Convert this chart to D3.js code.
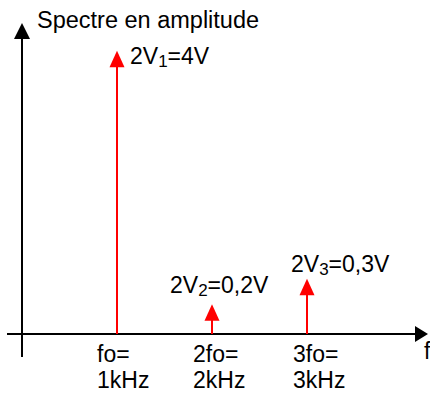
<!DOCTYPE html>
<html><head><meta charset="utf-8">
<script src="https://cdn.jsdelivr.net/npm/d3@7/dist/d3.min.js"></script>
<style>html,body{margin:0;padding:0;background:#fff;}svg{display:block;}</style>
</head><body>
<script>
// Data
const harmonics = [1, 2, 3];                       // frequency in kHz
const drawnHeight = [4, 0.42, 0.78];               // arrow length as drawn (schematic, V units)
const ampPrefix = ["2V", "2V", "2V"];
const ampSub = ["1", "2", "3"];
const ampSuffix = ["=4V", "=0,2V", "=0,3V"];
const tickLine1 = ["fo=", "2fo=", "3fo="];
const tickLine2 = ["1kHz", "2kHz", "3kHz"];
const yTitle = "Spectre en amplitude";
const xTitle = "f";

const W = 430, H = 396;
const svg = d3.select("body").append("svg").attr("width", W).attr("height", H);
const font = "'Liberation Sans', Arial, sans-serif";

const x = d3.scaleLinear().domain([0, 1]).range([22, 117]);
const y = d3.scaleLinear().domain([0, 4]).range([334, 50.7]);

// axes
const x0 = x(0), y0 = y(0);
svg.append("line").attr("x1", 7).attr("y1", y0).attr("x2", 418).attr("y2", y0)
  .attr("stroke", "#000").attr("stroke-width", 2);
svg.append("path").attr("d", `M428,${y0} L415,${y0-8} L415,${y0+8} Z`).attr("fill", "#000");
svg.append("line").attr("x1", x0).attr("y1", 357).attr("x2", x0).attr("y2", 36)
  .attr("stroke", "#000").attr("stroke-width", 2);
svg.append("path").attr("d", `M${x0},23 L${x0-8},39 L${x0+8},39 Z`).attr("fill", "#000");

svg.append("text").attr("x", 37).attr("y", 28).attr("font-family", font)
  .attr("font-size", 23.5).attr("fill", "#000").text(yTitle);
svg.append("text").attr("x", 424).attr("y", 359).attr("font-family", font)
  .attr("font-size", 23).attr("fill", "#000").text(xTitle);

// spectral lines
const labelOffset = [[13, 13], [-42, -11], [-16, -7]];
const tickOffset = [-20, -19, -14];
harmonics.forEach((f, i) => {
  const px = x(f), tip = y(drawnHeight[i]);
  svg.append("line").attr("x1", px).attr("y1", y0).attr("x2", px).attr("y2", tip + 14)
    .attr("stroke", "#ff0000").attr("stroke-width", 2);
  svg.append("path").attr("d", `M${px},${tip} L${px-7.5},${tip+16.5} L${px+7.5},${tip+16.5} Z`)
    .attr("fill", "#ff0000");
  const t = svg.append("text").attr("x", px + labelOffset[i][0]).attr("y", tip + labelOffset[i][1])
    .attr("font-family", font).attr("font-size", 23).attr("fill", "#000");
  t.append("tspan").text(ampPrefix[i]);
  t.append("tspan").attr("font-size", 17).attr("dy", 3).text(ampSub[i]);
  t.append("tspan").attr("dy", -3).text(ampSuffix[i]);
  svg.append("text").attr("x", px + tickOffset[i]).attr("y", 362)
    .attr("font-family", font).attr("font-size", 23).attr("fill", "#000").text(tickLine1[i]);
  svg.append("text").attr("x", px + tickOffset[i]).attr("y", 388)
    .attr("font-family", font).attr("font-size", 23).attr("fill", "#000").text(tickLine2[i]);
});
</script>
</body></html>
